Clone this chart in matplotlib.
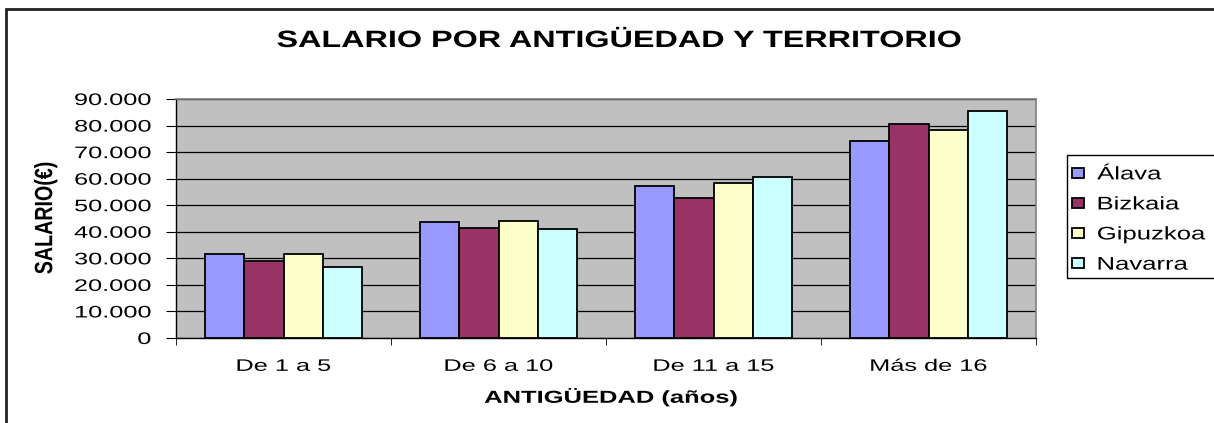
import matplotlib
matplotlib.use("Agg")
import matplotlib.pyplot as plt
import matplotlib.patches as mpatches
from matplotlib.ticker import FuncFormatter, FixedLocator
from matplotlib.patheffects import AbstractPathEffect
from matplotlib.transforms import Affine2D
import numpy as np

plt.rcParams['font.family'] = ['Liberation Sans', 'DejaVu Sans']

categories = ["De 1 a 5", "De 6 a 10", "De 11 a 15", "Más de 16"]
series_names = ["Álava", "Bizkaia", "Gipuzkoa", "Navarra"]
alava = [31700, 43600, 57100, 74300]
bizkaia = [29000, 41600, 52800, 80500]
gipuzkoa = [31700, 44200, 58300, 78200]
navarra = [26700, 41000, 60500, 85500]
colors = ["#9999FF", "#993366", "#FFFFCC", "#CCFFFF"]


class Stretch(AbstractPathEffect):
    """Renders text glyphs stretched (the reference chart is horizontally stretched)."""
    def __init__(self, sx=1.0, sy=1.0, anchor="center"):
        super().__init__((0, 0))
        self.sx, self.sy, self.anchor = sx, sy, anchor

    def draw_path(self, renderer, gc, tpath, affine, rgbFace=None):
        bb = tpath.get_extents(affine)
        if self.anchor == "left":
            cx = bb.x0
        elif self.anchor == "right":
            cx = bb.x1
        else:
            cx = (bb.x0 + bb.x1) / 2
        cy = (bb.y0 + bb.y1) / 2
        st = Affine2D().translate(-cx, -cy).scale(self.sx, self.sy).translate(cx, cy)
        renderer.draw_path(gc, tpath, affine + st, rgbFace)


W, H = 1214, 423
fig = plt.figure(figsize=(W / 100, H / 100), dpi=100)
fig.patch.set_facecolor("white")

left, right, top, bottom = 176, 1036, 99, 338
ax = fig.add_axes([left / W, 1 - bottom / H, (right - left) / W, (bottom - top) / H])
ax.set_facecolor("#C0C0C0")

values = [alava, bizkaia, gipuzkoa, navarra]
x = np.arange(len(categories))
bw = 1 / 5.5
bars = []
for i, (name, vals, c) in enumerate(zip(series_names, values, colors)):
    b = ax.bar(x + (i - 1.5) * bw, vals, width=bw, color=c, edgecolor="black",
               linewidth=1.3, label=name, zorder=3)
    bars.append(b)

ax.set_xlim(-0.5, 3.5)
ax.set_ylim(0, 90000)
ax.yaxis.set_major_locator(FixedLocator(np.arange(0, 90001, 10000)))
ax.yaxis.set_major_formatter(FuncFormatter(lambda v, p: f"{int(v):,}".replace(",", ".")))
ax.grid(axis="y", color="black", linewidth=0.9, zorder=1)
ax.set_axisbelow(True)

ax.set_xticks(x)
ax.set_xticklabels(categories, fontsize=12)
ax.set_xticks([-0.5, 0.5, 1.5, 2.5, 3.5], minor=True)
ax.tick_params(axis="x", which="major", length=0, pad=15)
ax.tick_params(axis="x", which="minor", length=5, direction="out", color="black")
ax.tick_params(axis="y", length=7, direction="out", labelsize=12, pad=11)

for s in ["top", "right"]:
    ax.spines[s].set_color("#808080")
    ax.spines[s].set_linewidth(1.2)
for s in ["left", "bottom"]:
    ax.spines[s].set_color("black")
    ax.spines[s].set_linewidth(1.0)

fig.text(619.5 / W, 1 - 47 / H, "SALARIO POR ANTIGÜEDAD Y TERRITORIO",
         ha="center", va="baseline", fontsize=17, fontweight="bold",
         path_effects=[Stretch(1.37, 1.0, "center")])
fig.text(611 / W, 1 - 397 / H, "ANTIGÜEDAD (años)", ha="center", va="center",
         fontsize=12.5, fontweight="bold",
         path_effects=[Stretch(1.47, 1.0, "center")])
fig.text(45.5 / W, 1 - 218 / H, "SALARIO(€)", ha="center", va="center",
         fontsize=12, fontweight="bold", rotation=90,
         path_effects=[Stretch(1.5, 1.18, "center")])

leg = fig.legend(handles=bars, labels=series_names, loc="upper left",
                 bbox_to_anchor=(1072 / W, 1 - 167 / H), fontsize=12.5,
                 frameon=False, handlelength=0.7, handleheight=0.55,
                 handletextpad=0.75, labelspacing=0.87, borderpad=0,
                 borderaxespad=0)
for t in leg.get_texts():
    t.set_path_effects([Stretch(1.48, 1.05, "left")])
fig.patches.append(mpatches.Rectangle((1067 / W, 1 - 278 / H), 200 / W, 123 / H,
                                      transform=fig.transFigure, fill=False,
                                      edgecolor="black", linewidth=1.0, clip_on=False))

frame = mpatches.Rectangle((6 / W, -0.2), 2.0, 1.2 - 9 / H, transform=fig.transFigure,
                           fill=False, edgecolor="#222222", linewidth=2, clip_on=False)
fig.patches.append(frame)

fig.canvas.draw()
for t in ax.get_yticklabels():
    t.set_path_effects([Stretch(1.52, 1.0, "right")])
for t in ax.get_xticklabels():
    t.set_path_effects([Stretch(1.52, 1.0, "center")])

fig.savefig("out.png", dpi=100, facecolor="white")
